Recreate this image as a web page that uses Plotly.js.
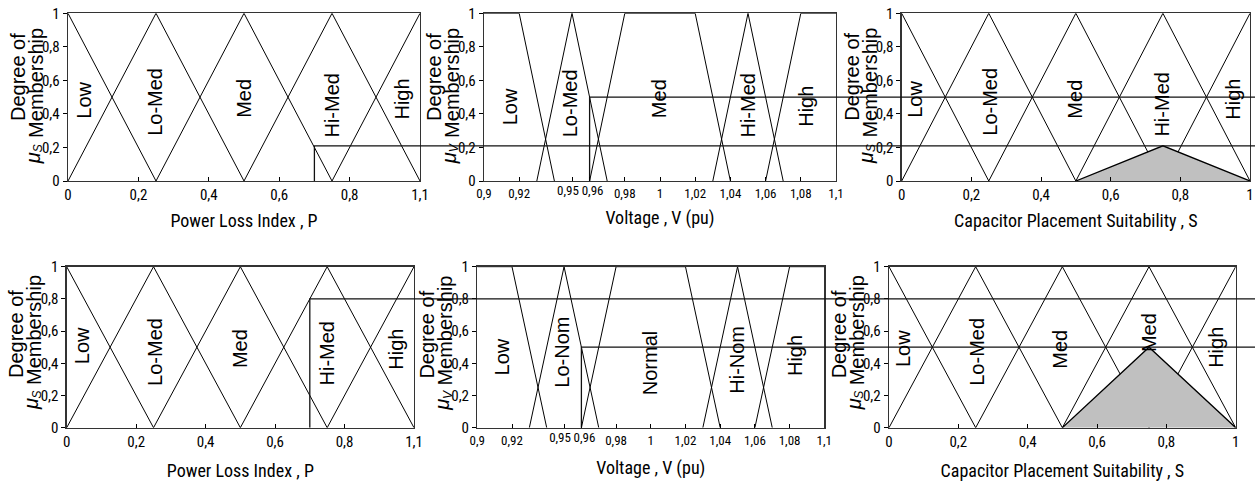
<!DOCTYPE html>
<html><head><meta charset="utf-8">
<script src="https://cdn.plot.ly/plotly-3.0.1.min.js"></script>
<style>html,body{margin:0;padding:0;background:#fff}#chart{width:1255px;height:483px}</style>
</head><body><div id="chart"></div>
<script>
// ---------------- DATA ----------------
// Power Loss Index membership functions (axis shown 0..1, end tick labelled "1,1")
const powerSets = ['Low', 'Lo-Med', 'Med', 'Hi-Med', 'High'];
const powerX = [[0, 0.25], [0, 0.25, 0.5], [0.25, 0.5, 0.75], [0.5, 0.75, 1], [0.75, 1]];
const powerY = [[1, 0], [0, 1, 0], [0, 1, 0], [0, 1, 0], [0, 1]];

// Voltage membership functions
const voltSetsTop = ['Low', 'Lo-Med', 'Med', 'Hi-Med', 'High'];
const voltSetsBottom = ['Low', 'Lo-Nom', 'Normal', 'Hi-Nom', 'High'];
const voltX = [[0.9, 0.92, 0.94], [0.93, 0.95, 0.97], [0.96, 0.98, 1.02, 1.04], [1.03, 1.05, 1.07], [1.06, 1.08, 1.1]];
const voltY = [[1, 1, 0], [0, 1, 0], [0, 1, 1, 0], [0, 1, 0], [0, 1, 1]];

// Capacitor Placement Suitability membership functions
const suitSetsTop = ['Low', 'Lo-Med', 'Med', 'Hi-Med', 'High'];
const suitSetsBottom = ['Low', 'Lo-Med', 'Med', 'Med', 'High']; // "Hi-" hidden under shaded output
const suitX = [[0, 0.25], [0, 0.25, 0.5], [0.25, 0.5, 0.75], [0.5, 0.75, 1], [0.75, 1]];
const suitY = [[1, 0], [0, 1, 0], [0, 1, 0], [0, 1, 0], [0, 1]];

// Inputs (top row, bottom row)
const inputP = [0.7, 0.7];
const muP = [0.21, 0.8];
const inputV = [0.96, 0.96];
const muV = [0.5, 0.5];
// Output (clipped Hi-Med set)
const outX = [0.5, 0.75, 1];
const outYTop = [0, 0.21, 0];
const outYBottom = [0, 0.5, 0];

// Ticks
const unitTickVals = [0, 0.2, 0.4, 0.6, 0.8, 1];
const muTickText = ['0', '0,2', '0,4', '0,6', '0,8', '1'];
const powerTickText = ['0', '0,2', '0,4', '0,6', '0,8', '1,1'];
const suitTickText = ['0', '0,2', '0,4', '0,6', '0,8', '1'];
const voltTickVals = [0.9, 0.92, 0.95, 0.96, 0.98, 1, 1.02, 1.04, 1.06, 1.08, 1.1];
const voltTickText = ['0,9', '0,92', '0,95', '0,96', '0,98', '1', '1,02', '1,04', '1,06', '1,08', '1,1'];

// ---------------- LAYOUT CONFIG ----------------
const W = 1255, H = 483;
const NARROW = 'Roboto Condensed, Liberation Sans Narrow, Arial Narrow, Liberation Sans, Arial, sans-serif';
const ARIAL = 'Liberation Sans, Arial, sans-serif';
const rowsPx = [{top: 13.3, bottom: 181, standoff: 11}, {top: 266.7, bottom: 427.7, standoff: 14}];
const colsPx = [[[68, 420], [484, 836], [901.7, 1250]], [[66.7, 414], [477.3, 824.3], [889, 1235.7]]];
// tick labels nudged sideways so the close 0,95 / 0,96 labels do not collide
const voltNudge = {0.95: -4, 0.96: 3};

const panels = [
  {row: 0, col: 0, kind: 'P', labels: powerSets, mu: 'S',
   lpos: [[0.043, 0.48], [0.249, 0.47], [0.50, 0.49], [0.75, 0.45], [0.948, 0.49]]},
  {row: 0, col: 1, kind: 'V', labels: voltSetsTop, mu: 'V',
   lpos: [[0.9148, 0.44], [0.949, 0.465], [0.9996, 0.49], [1.050, 0.45], [1.083, 0.443]]},
  {row: 0, col: 2, kind: 'S', labels: suitSetsTop, mu: 'S', out: outYTop,
   lpos: [[0.038, 0.49], [0.255, 0.47], [0.497, 0.49], [0.747, 0.455], [0.951, 0.49]]},
  {row: 1, col: 0, kind: 'P', labels: powerSets, mu: 'S',
   lpos: [[0.043, 0.51], [0.254, 0.47], [0.497, 0.49], [0.749, 0.46], [0.948, 0.49]]},
  {row: 1, col: 1, kind: 'V', labels: voltSetsBottom, mu: 'V',
   lpos: [[0.914, 0.44], [0.9486, 0.47], [0.9995, 0.40], [1.0495, 0.42], [1.083, 0.45]]},
  {row: 1, col: 2, kind: 'S', labels: suitSetsBottom, mu: 'S', out: outYBottom,
   lpos: [[0.041, 0.49], [0.253, 0.47], [0.493, 0.49], [0.748, 0.59], [0.945, 0.50]]}
];

const kinds = {
  P: {xs: powerX, ys: powerY, range: [0, 1], tv: unitTickVals, tt: powerTickText, title: 'Power Loss Index , P', tsize: 15},
  V: {xs: voltX, ys: voltY, range: [0.9, 1.1], tv: voltTickVals, tt: voltTickText, title: 'Voltage , V (pu)', tsize: 13},
  S: {xs: suitX, ys: suitY, range: [0, 1], tv: unitTickVals, tt: suitTickText, title: 'Capacitor Placement Suitability , S', tsize: 15}
};

const traces = [];
const layout = {
  width: W, height: H, margin: {l: 0, r: 0, t: 0, b: 0},
  paper_bgcolor: '#fff', plot_bgcolor: '#fff', showlegend: false,
  font: {family: ARIAL, color: '#000'},
  annotations: [], shapes: []
};
let extraAxis = 7;

const tickCommon = {ticks: 'inside', ticklen: 4, tickwidth: 1, tickcolor: '#000', tickangle: 0,
  showgrid: false, zeroline: false, fixedrange: true};

panels.forEach((p, i) => {
  const n = i + 1;
  const xa = n === 1 ? 'x' : 'x' + n;
  const ya = n === 1 ? 'y' : 'y' + n;
  const k = kinds[p.kind];
  const r = rowsPx[p.row];
  const c = colsPx[p.row][p.col];
  const xdom = [c[0] / W, c[1] / W];
  const ydom = [1 - r.bottom / H, 1 - r.top / H];
  p.xa = xa; p.ya = ya; p.xdom = xdom;

  const mainVals = [], mainText = [];
  k.tv.forEach((v, j) => {
    if (p.kind === 'V' && voltNudge[v] !== undefined) {
      // overlay axis carrying this one tick, its label shifted sideways a little
      const ax = 'x' + extraAxis;
      layout['xaxis' + extraAxis] = Object.assign({}, tickCommon, {
        overlaying: xa, anchor: ya, range: k.range, tickmode: 'array', tickvals: [v], ticktext: [k.tt[j]],
        ticklabelshift: voltNudge[v], showline: false,
        tickfont: {family: NARROW, size: k.tsize, color: '#000'}
      });
      traces.push({x: [], y: [], xaxis: ax, yaxis: ya, type: 'scatter', mode: 'lines', hoverinfo: 'skip'});
      extraAxis++;
    } else { mainVals.push(v); mainText.push(k.tt[j]); }
  });

  layout['xaxis' + (n === 1 ? '' : n)] = Object.assign({}, tickCommon, {
    domain: xdom, anchor: ya, range: k.range,
    tickmode: 'array', tickvals: mainVals, ticktext: mainText,
    showline: true, mirror: true, linecolor: '#333', linewidth: 1.3,
    tickfont: {family: NARROW, size: k.tsize, color: '#000'},
    title: {text: k.title, font: {family: NARROW, size: 18, color: '#000'}, standoff: r.standoff}
  });
  layout['yaxis' + (n === 1 ? '' : n)] = Object.assign({}, tickCommon, {
    domain: ydom, anchor: xa, range: [0, 1],
    tickmode: 'array', tickvals: unitTickVals, ticktext: muTickText,
    ticks: 'outside', showline: true, mirror: true, linecolor: '#333', linewidth: 1.3,
    tickfont: {family: NARROW, size: 15, color: '#000'}
  });

  // membership functions
  k.xs.forEach((xs, j) => {
    traces.push({x: xs, y: k.ys[j], xaxis: xa, yaxis: ya, type: 'scatter', mode: 'lines',
      line: {color: '#000', width: 1}, hoverinfo: 'skip', name: p.labels[j]});
  });

  // set labels
  p.labels.forEach((t, j) => {
    layout.annotations.push({text: t, x: p.lpos[j][0], y: p.lpos[j][1], xref: xa, yref: ya,
      xanchor: 'center', yanchor: 'middle',
      textangle: -90, showarrow: false, font: {family: ARIAL, size: 20, color: '#000'}});
  });

  // y-axis title pieces: "Degree of / Membership" and italic mu with subscript
  const base = {x: 0, xref: xa + ' domain', yref: ya, xanchor: 'center', yanchor: 'middle',
    textangle: -90, showarrow: false, font: {family: ARIAL, size: 20, color: '#000'}};
  const top = p.row === 0;
  layout.annotations.push(Object.assign({}, base, {text: 'Degree of', y: top ? 0.62 : 0.58, xshift: -50}));
  layout.annotations.push(Object.assign({}, base, {text: 'Membership', y: top ? 0.585 : 0.605, xshift: -32}));
  layout.annotations.push(Object.assign({}, base, {text: 'μ', y: top ? 0.135 : 0.145, xshift: -35,
    font: {family: ARIAL, size: 20, color: '#000', style: 'italic'}}));
  layout.annotations.push(Object.assign({}, base, {text: p.mu, y: top ? 0.195 : 0.205, xshift: -30,
    font: {family: ARIAL, size: 12, color: '#000', style: 'italic'}}));
});

// input cut lines (inside panels) + extensions to the right across the row
[0, 1].forEach(row => {
  const pP = panels[row * 3], pV = panels[row * 3 + 1];
  traces.push({x: [inputP[row], inputP[row], kinds.P.range[1]], y: [0, muP[row], muP[row]],
    xaxis: pP.xa, yaxis: pP.ya, type: 'scatter', mode: 'lines', line: {color: '#111', width: 1.3}, hoverinfo: 'skip'});
  traces.push({x: [inputV[row], inputV[row], kinds.V.range[1]], y: [0, muV[row], muV[row]],
    xaxis: pV.xa, yaxis: pV.ya, type: 'scatter', mode: 'lines', line: {color: '#111', width: 1.3}, hoverinfo: 'skip'});
  layout.shapes.push({type: 'line', xref: 'paper', yref: pP.ya, x0: pP.xdom[1], x1: 1, y0: muP[row], y1: muP[row],
    line: {color: '#111', width: 1.3}});
  layout.shapes.push({type: 'line', xref: 'paper', yref: pV.ya, x0: pV.xdom[1], x1: 1, y0: muV[row], y1: muV[row],
    line: {color: '#111', width: 1.3}});
});

// shaded output areas
panels.forEach(p => {
  if (!p.out) return;
  traces.push({x: outX, y: p.out, xaxis: p.xa, yaxis: p.ya, type: 'scatter', mode: 'lines',
    fill: 'toself', fillcolor: '#c0c0c0', line: {color: '#000', width: 1.3}, hoverinfo: 'skip'});
});

Plotly.newPlot('chart', traces, layout, {displayModeBar: false, staticPlot: true});
</script>
</body></html>
